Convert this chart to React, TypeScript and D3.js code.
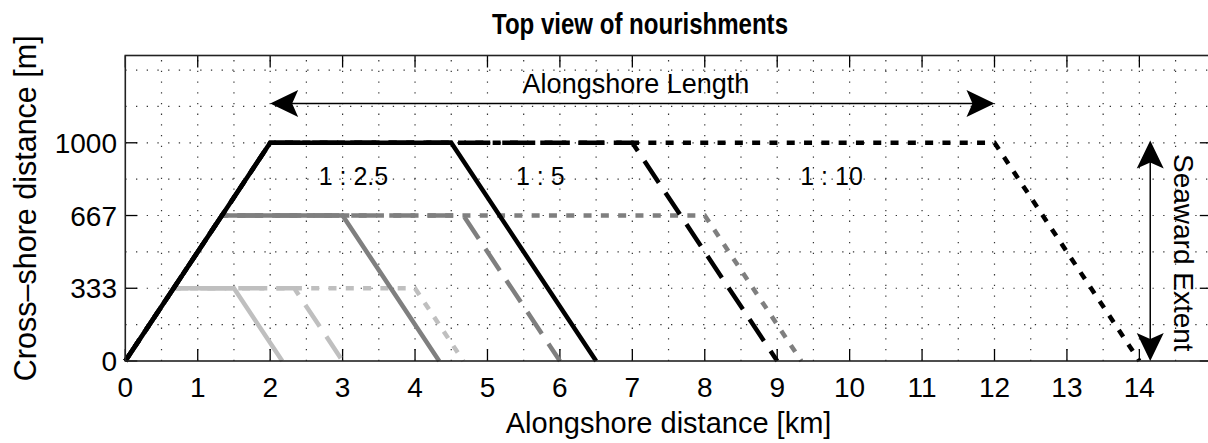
import React from 'react';
import * as d3 from 'd3';

// ---- data ----
const xTickValues = [0, 1, 2, 3, 4, 5, 6, 7, 8, 9, 10, 11, 12, 13, 14];
const yTickValues = [0, 333.33, 666.67, 1000];
const yTickLabels = ['0', '333', '667', '1000'];

// nourishment outlines (alongshore km, cross-shore m)
const bigY = [0, 1000, 1000, 0];
const midY = [0, 666.67, 666.67, 0];
const smallY = [0, 333.33, 333.33, 0];

const bigSolidX = [0, 2, 4.5, 6.5];
const bigDashedX = [0, 2, 7, 9];
const bigDottedX = [0, 2, 12, 14];

const midSolidX = [0, 1.333, 3, 4.333];
const midDashedX = [0, 1.333, 4.667, 6];
const midDottedX = [0, 1.333, 8, 9.333];

const smallSolidX = [0, 0.667, 1.5, 2.167];
const smallDashedX = [0, 0.667, 2.333, 3];
const smallDottedX = [0, 0.667, 4, 4.667];

const slopeLabels = ['1 : 2.5', '1 : 5', '1 : 10'];
const slopeLabelX = [3.15, 5.73, 9.75];
const slopeLabelY = 805;

const lengthArrowX = [2, 12];
const lengthArrowY = 1180;
const extentArrowX = 14.15;
const extentArrowY = [1010, 0];

const W = 1208;
const H = 443;
const font = "'Liberation Sans', Arial, Helvetica, sans-serif";

export default function App() {
  const x = d3.scaleLinear().domain([0, 15]).range([125.3, 1211.8]);
  const y = d3.scaleLinear().domain([0, 1400]).range([361, 55.5]);

  const line = d3
    .line<[number, number]>()
    .x((d) => x(d[0]))
    .y((d) => y(d[1]));

  const mk = (xs: number[], ys: number[]) => line(xs.map((v, i) => [v, ys[i]] as [number, number])) || '';

  const dashed = '26,12';
  const dotted = '8,9.3';
  const black = '#000000';
  const gray = '#7f7f7f';
  const light = '#bfbfbf';

  const series = [
    { xs: smallDottedX, ys: smallY, c: light, d: dotted },
    { xs: smallDashedX, ys: smallY, c: light, d: dashed },
    { xs: smallSolidX, ys: smallY, c: light, d: undefined },
    { xs: midDottedX, ys: midY, c: gray, d: dotted },
    { xs: midDashedX, ys: midY, c: gray, d: dashed },
    { xs: midSolidX, ys: midY, c: gray, d: undefined },
    { xs: bigDottedX, ys: bigY, c: black, d: dotted },
    { xs: bigDashedX, ys: bigY, c: black, d: dashed },
    { xs: bigSolidX, ys: bigY, c: black, d: undefined },
  ];

  const [x0, x1] = x.range();
  const [y0, y1] = y.range();

  const vGrid = d3.range(0.5, 15, 0.5);
  const hGrid = d3.range(1, 9).map((k) => (k * 1000) / 6);

  const head = (tx: number, ty: number, dx: number, dy: number) => {
    const L = 28, Wd = 27, notch = 22;
    const px = -dy, py = dx;
    const bx = tx - dx * L, by = ty - dy * L;
    const nx = tx - dx * notch, ny = ty - dy * notch;
    return `M${tx},${ty}L${bx + px * Wd / 2},${by + py * Wd / 2}L${nx},${ny}L${bx - px * Wd / 2},${by - py * Wd / 2}Z`;
  };

  const ax1 = x(lengthArrowX[0]), ax2 = x(lengthArrowX[1]), ay = y(lengthArrowY);
  const ex = x(extentArrowX), ey1 = y(extentArrowY[0]), ey2 = y(extentArrowY[1]);

  return (
    <svg width={W} height={H} style={{ position: 'absolute', left: 0, top: 0, background: '#fff' }}>
      <rect x={0} y={0} width={W} height={H} fill="#fff" />
      {/* grid */}
      <g stroke="#333" strokeWidth={1.2} strokeDasharray="1.3,9.4">
        {vGrid.map((v) => (
          <line key={'v' + v} x1={x(v)} x2={x(v)} y1={y0} y2={y1} />
        ))}
        {hGrid.map((v) => (
          <line key={'h' + v} x1={x0} x2={x1} y1={y(v)} y2={y(v)} />
        ))}
      </g>
      {/* ticks */}
      <g stroke="#000" strokeWidth={1.3}>
        {xTickValues.map((v) => (
          <g key={'xt' + v}>
            <line x1={x(v)} x2={x(v)} y1={y0} y2={y0 - 12} />
            <line x1={x(v)} x2={x(v)} y1={y1} y2={y1 + 12} />
          </g>
        ))}
        {yTickValues.map((v) => (
          <g key={'yt' + v}>
            <line x1={x0} x2={x0 + 12} y1={y(v)} y2={y(v)} />
            <line x1={x1} x2={x1 - 12} y1={y(v)} y2={y(v)} />
          </g>
        ))}
      </g>
      {/* series */}
      <g fill="none" strokeWidth={4.5} strokeLinejoin="miter" strokeLinecap="butt">
        {series.map((s, i) => (
          <path key={i} d={mk(s.xs, s.ys)} stroke={s.c} strokeDasharray={s.d} />
        ))}
      </g>
      {/* axes box */}
      <rect x={x0} y={y1} width={x1 - x0} height={y0 - y1} fill="none" stroke="#222" strokeWidth={1.6} />
      {/* tick labels */}
      <g fontFamily={font} fontSize={28} fill="#000">
        {xTickValues.map((v) => (
          <text key={'xl' + v} x={x(v)} y={397} textAnchor="middle">
            {String(v)}
          </text>
        ))}
        {yTickValues.map((v, i) => (
          <text key={'yl' + v} x={117} y={y(v) + 10} textAnchor="end">
            {yTickLabels[i]}
          </text>
        ))}
      </g>
      {/* axis labels */}
      <text x={(x0 + x1) / 2} y={433} textAnchor="middle" fontFamily={font} fontSize={29}>
        Alongshore distance [km]
      </text>
      <text
        transform={`translate(36,${(y0 + y1) / 2}) rotate(-90)`}
        textAnchor="middle"
        fontFamily={font}
        fontSize={30.5}
      >
        Cross–shore distance [m]
      </text>
      {/* title */}
      <text
        x={640}
        y={34}
        textAnchor="middle"
        fontFamily={font}
        fontWeight="bold"
        fontSize={29}
        textLength={296}
        lengthAdjust="spacingAndGlyphs"
      >
        Top view of nourishments
      </text>
      {/* slope labels */}
      <g fontFamily={font} fontSize={25}>
        {slopeLabels.map((t, i) => (
          <text key={t} x={x(slopeLabelX[i])} y={y(slopeLabelY)} textAnchor="middle">
            {t}
          </text>
        ))}
      </g>
      {/* alongshore length arrow */}
      <line x1={ax1 + 20} x2={ax2 - 20} y1={ay} y2={ay} stroke="#000" strokeWidth={1.5} />
      <path d={head(ax1, ay, -1, 0)} fill="#000" />
      <path d={head(ax2, ay, 1, 0)} fill="#000" />
      <text x={x(7.05)} y={y(1230)} textAnchor="middle" fontFamily={font} fontSize={27}>
        Alongshore Length
      </text>
      {/* seaward extent arrow */}
      <line x1={ex} x2={ex} y1={ey1 + 20} y2={ey2 - 20} stroke="#000" strokeWidth={1.5} />
      <path d={head(ex, ey1, 0, -1)} fill="#000" />
      <path d={head(ex, ey2, 0, 1)} fill="#000" />
      <text
        transform={`translate(1174,${(ey1 + ey2) / 2 + 2}) rotate(90)`}
        textAnchor="middle"
        fontFamily={font}
        fontSize={28}
      >
        Seaward Extent
      </text>
    </svg>
  );
}
